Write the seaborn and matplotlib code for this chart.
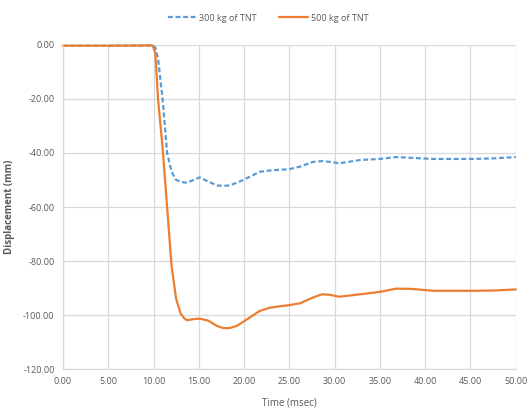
import matplotlib
matplotlib.use("Agg")
import matplotlib.pyplot as plt
from matplotlib.ticker import FormatStrFormatter, MultipleLocator
from matplotlib.lines import Line2D
import seaborn as sns
import pandas as pd

# Time axis (msec) shared by both charges
time_ms = [0, 5, 9.9, 10.2, 10.5, 11.0, 11.5, 12.0, 12.5, 13.0, 13.4, 13.7, 14.4, 15.1,
           16.0, 17.0, 17.7, 18.4, 19.2, 19.9, 20.8, 21.7, 22.8, 24.0, 25.0, 26.2,
           27.6, 28.6, 29.5, 30.5, 31.5, 32.8, 35.0, 36.8, 38.5, 40.9, 43.0, 45.3,
           47.5, 50.0]

# Displacement (mm) for 300 kg of TNT
disp_300 = [-0.3, -0.3, -0.2, -1, -5, -20, -40, -47, -50, -50.6, -50.9, -51, -50, -49,
            -50.5, -52, -52.2, -52, -51, -50, -48.5, -47, -46.5, -46.2, -46, -45,
            -43.3, -43, -43.3, -43.8, -43.3, -42.6, -42.2, -41.5, -41.8, -42.2, -42.2, -42.2,
            -42, -41.5]

# Displacement (mm) for 500 kg of TNT
disp_500 = [-0.3, -0.3, -0.2, -3, -20, -38, -60, -82, -94, -99.5, -101.2, -101.9, -101.5, -101.3,
            -102, -104, -104.8, -104.8, -104, -102.5, -100.5, -98.5, -97.3, -96.7, -96.3, -95.6,
            -93.5, -92.3, -92.5, -93.2, -92.8, -92.3, -91.4, -90.2, -90.3, -91, -91, -91,
            -90.9, -90.5]

series_names = ["300 kg of TNT", "500 kg of TNT"]
colors = ["#5B9BD5", "#ED7D31"]
dash_300 = (2.2, 1.2)

df = pd.concat([
    pd.DataFrame({"t": time_ms, "d": disp_300, "series": series_names[0]}),
    pd.DataFrame({"t": time_ms, "d": disp_500, "series": series_names[1]}),
])

sns.set_theme(style="white")
plt.rcParams["font.family"] = ["Open Sans", "DejaVu Sans"]

fig = plt.figure(figsize=(5.29, 4.12), dpi=100)
ax = fig.add_axes([0.119, 0.104, 0.856, 0.787])

palette = dict(zip(series_names, colors))
dashes = {series_names[0]: dash_300, series_names[1]: ""}

sns.lineplot(data=df, x="t", y="d", hue="series", style="series",
             palette=palette, dashes=dashes, linewidth=1.6, ax=ax,
             legend=False, sort=False)
for line in ax.lines:
    line.set_clip_on(False)

ax.set_xlim(0, 50)
ax.set_ylim(-120, 0)
ax.xaxis.set_major_locator(MultipleLocator(5))
ax.yaxis.set_major_locator(MultipleLocator(20))
ax.xaxis.set_major_formatter(FormatStrFormatter("%.2f"))
ax.yaxis.set_major_formatter(FormatStrFormatter("%.2f"))

ax.grid(True, color="#D9D9D9", linewidth=0.9)
ax.set_axisbelow(True)
for side in ["top", "right"]:
    ax.spines[side].set_visible(False)
for side in ["left", "bottom"]:
    ax.spines[side].set_color("#D9D9D9")
    ax.spines[side].set_linewidth(0.9)

ax.tick_params(axis="both", labelsize=6.5, labelcolor="#595959", length=0, pad=6)
ax.set_xlabel("Time (msec)", fontsize=7, color="#595959", labelpad=8)
ax.set_ylabel("Displacement (mm)", fontsize=7, color="#595959",
              fontweight="bold", labelpad=6)

handles = [Line2D([0], [0], color=colors[0], lw=1.6, dashes=dash_300),
           Line2D([0], [0], color=colors[1], lw=1.6)]
fig.legend(handles, series_names, loc="center", bbox_to_anchor=(0.507, 0.956),
           ncol=2, frameon=False, fontsize=6.5, labelcolor="#595959",
           handlelength=3.2, handletextpad=0.3, columnspacing=2.5)

fig.savefig("out.png", dpi=100)
